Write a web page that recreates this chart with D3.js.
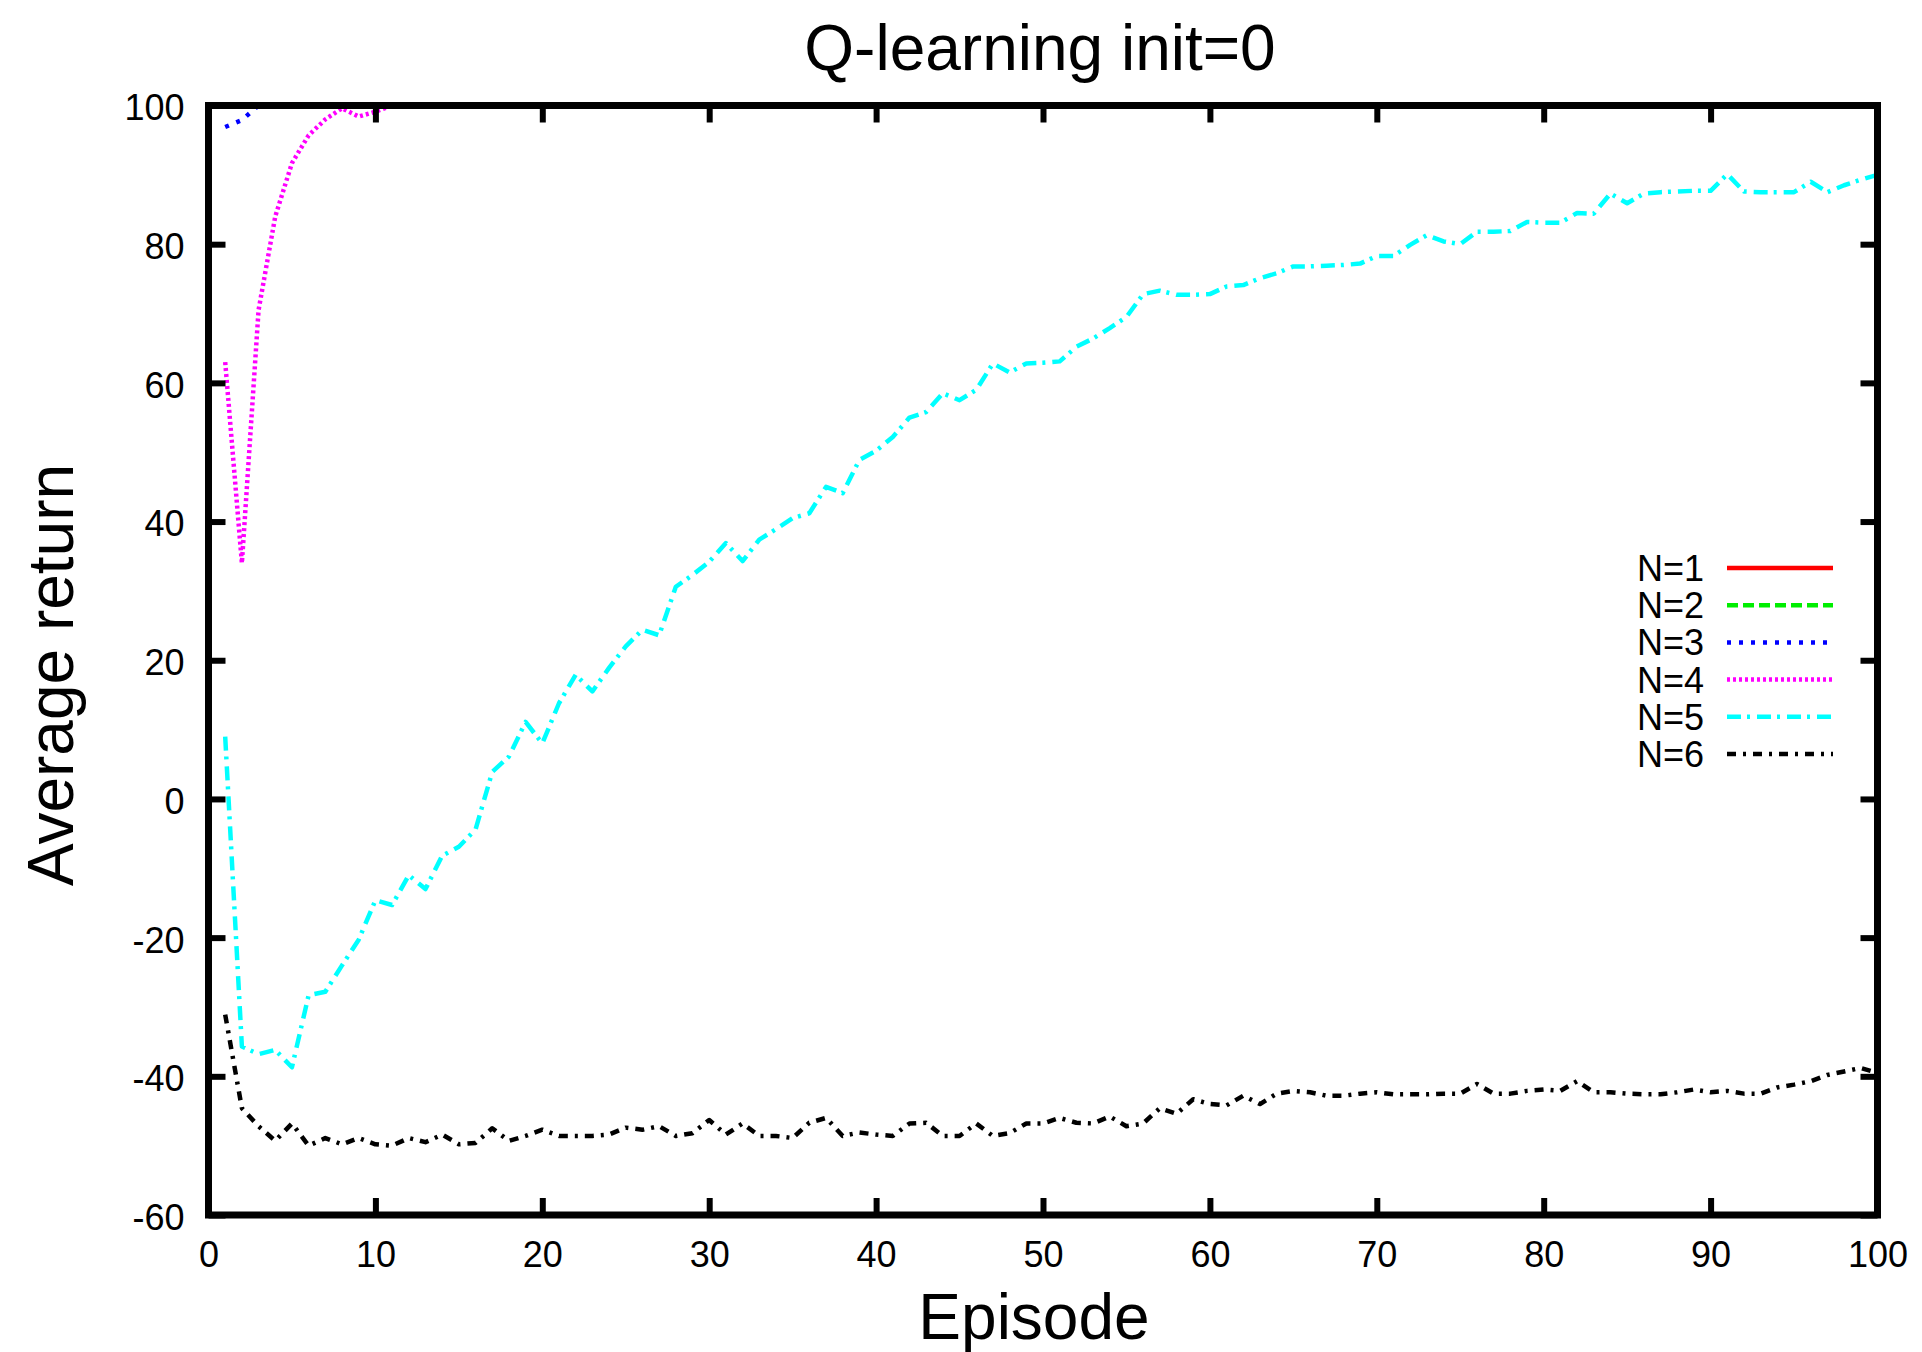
<!DOCTYPE html>
<html>
<head>
<meta charset="utf-8">
<script src="https://cdn.jsdelivr.net/npm/d3@7"></script>
<style>
  body { margin: 0; background: #fff; }
  svg { display: block; background: #fff; }
  text { font-family: "Liberation Sans", Arial, Helvetica, sans-serif; fill: #000; }
</style>
</head>
<body>
<svg id="chart" width="1922" height="1352"></svg>
<script>
const title = "Q-learning init=0";
const xLabel = "Episode";
const yLabel = "Average return";

const xTicks = [0, 10, 20, 30, 40, 50, 60, 70, 80, 90, 100];
const yTicks = [-60, -40, -20, 0, 20, 40, 60, 80, 100];

// episode numbers along the x axis
const episodes = d3.range(1, 101);

const seriesNames = ["N=1", "N=2", "N=3", "N=4", "N=5", "N=6"];
const seriesColors = ["#ff0000", "#00ee00", "#0000ff", "#ff00ff", "#00ffff", "#000000"];
const seriesDashes = ["none", "11,5", "4,8", "3,3", "14,6,3,7", "9,7,3,7"];

// average return per episode
const n1 = [
  100, 100, 100, 100, 100, 100, 100, 100, 100, 100,
  100, 100, 100, 100, 100, 100, 100, 100, 100, 100,
  100, 100, 100, 100, 100, 100, 100, 100, 100, 100,
  100, 100, 100, 100, 100, 100, 100, 100, 100, 100,
  100, 100, 100, 100, 100, 100, 100, 100, 100, 100,
  100, 100, 100, 100, 100, 100, 100, 100, 100, 100,
  100, 100, 100, 100, 100, 100, 100, 100, 100, 100,
  100, 100, 100, 100, 100, 100, 100, 100, 100, 100,
  100, 100, 100, 100, 100, 100, 100, 100, 100, 100,
  100, 100, 100, 100, 100, 100, 100, 100, 100, 100
];
const n2 = [
  100, 100, 100, 100, 100, 100, 100, 100, 100, 100,
  100, 100, 100, 100, 100, 100, 100, 100, 100, 100,
  100, 100, 100, 100, 100, 100, 100, 100, 100, 100,
  100, 100, 100, 100, 100, 100, 100, 100, 100, 100,
  100, 100, 100, 100, 100, 100, 100, 100, 100, 100,
  100, 100, 100, 100, 100, 100, 100, 100, 100, 100,
  100, 100, 100, 100, 100, 100, 100, 100, 100, 100,
  100, 100, 100, 100, 100, 100, 100, 100, 100, 100,
  100, 100, 100, 100, 100, 100, 100, 100, 100, 100,
  100, 100, 100, 100, 100, 100, 100, 100, 100, 100
];
const n3 = [
  96.9, 97.9, 100, 100, 100, 100, 100, 100, 100, 100,
  100, 100, 100, 100, 100, 100, 100, 100, 100, 100,
  100, 100, 100, 100, 100, 100, 100, 100, 100, 100,
  100, 100, 100, 100, 100, 100, 100, 100, 100, 100,
  100, 100, 100, 100, 100, 100, 100, 100, 100, 100,
  100, 100, 100, 100, 100, 100, 100, 100, 100, 100,
  100, 100, 100, 100, 100, 100, 100, 100, 100, 100,
  100, 100, 100, 100, 100, 100, 100, 100, 100, 100,
  100, 100, 100, 100, 100, 100, 100, 100, 100, 100,
  100, 100, 100, 100, 100, 100, 100, 100, 100, 100
];
const n4 = [
  63, 34, 70.5, 84, 91.7, 95.7, 98, 99.6, 98.4, 99.1,
  100, 100, 100, 100, 100, 100, 100, 100, 100, 100,
  100, 100, 100, 100, 100, 100, 100, 100, 100, 100,
  100, 100, 100, 100, 100, 100, 100, 100, 100, 100,
  100, 100, 100, 100, 100, 100, 100, 100, 100, 100,
  100, 100, 100, 100, 100, 100, 100, 100, 100, 100,
  100, 100, 100, 100, 100, 100, 100, 100, 100, 100,
  100, 100, 100, 100, 100, 100, 100, 100, 100, 100,
  100, 100, 100, 100, 100, 100, 100, 100, 100, 100,
  100, 100, 100, 100, 100, 100, 100, 100, 100, 100
];
const n5 = [
  9.0, -35.7, -36.8, -36.2, -38.7, -28.3, -27.8, -24.0, -20.3, -14.6,
  -15.3, -11.0, -13.0, -8.2, -6.9, -4.4, 3.9, 6.1, 11.1, 8.0,
  13.8, 17.9, 15.5, 18.9, 22.0, 24.4, 23.6, 30.6, 32.3, 34.2,
  36.9, 34.3, 37.4, 38.9, 40.5, 41.2, 45.0, 44.1, 48.9, 50.2,
  52.2, 55.0, 55.8, 58.5, 57.5, 59.0, 62.8, 61.5, 62.8, 62.9,
  63.1, 65.2, 66.4, 67.9, 69.5, 72.8, 73.3, 72.7, 72.7, 72.8,
  73.9, 74.1, 75.1, 75.8, 76.8, 76.8, 76.9, 77.0, 77.2, 78.3,
  78.3, 79.9, 81.3, 80.4, 80.0, 81.8, 81.8, 81.9, 83.2, 83.1,
  83.1, 84.5, 84.4, 87.3, 85.9, 87.3, 87.5, 87.6, 87.7, 87.7,
  90.1, 87.6, 87.5, 87.5, 87.5, 89.0, 87.5, 88.5, 89.3, 90.0
];
const n6 = [
  -31.1, -44.6, -47.2, -49.3, -46.8, -50.0, -48.9, -49.8, -48.9, -49.8,
  -50.0, -48.9, -49.5, -48.4, -49.8, -49.6, -47.5, -49.3, -48.6, -47.7,
  -48.6, -48.6, -48.6, -48.4, -47.4, -47.7, -47.2, -48.6, -48.2, -46.3,
  -48.4, -46.8, -48.6, -48.6, -48.9, -46.7, -46.0, -48.6, -48.1, -48.4,
  -48.6, -46.8, -46.7, -48.6, -48.6, -46.8, -48.6, -48.2, -46.8, -46.8,
  -46.0, -46.7, -46.8, -45.8, -47.2, -46.8, -44.6, -45.4, -43.3, -44.0,
  -44.2, -42.8, -44.0, -42.5, -42.1, -42.3, -42.8, -42.8, -42.5, -42.3,
  -42.6, -42.6, -42.6, -42.5, -42.5, -41.1, -42.5, -42.5, -42.1, -41.9,
  -42.1, -40.7, -42.3, -42.3, -42.5, -42.6, -42.6, -42.3, -41.9, -42.3,
  -42.1, -42.5, -42.5, -41.6, -41.2, -40.7, -39.8, -39.3, -38.8, -39.5
];
const seriesValues = [n1, n2, n3, n4, n5, n6];

const width = 1922, height = 1352;
const margin = {top: 105.5, right: 44.5, bottom: 137, left: 208.5};
const fontFamily = '"Liberation Sans", Arial, Helvetica, sans-serif';

const svg = d3.select("#chart");

const x = d3.scaleLinear()
    .domain([0, 100])
    .range([margin.left, width - margin.right]);
const y = d3.scaleLinear()
    .domain([-60, 100])
    .range([height - margin.bottom, margin.top]);

svg.append("defs").append("clipPath")
    .attr("id", "plotClip")
  .append("rect")
    .attr("x", x(0))
    .attr("y", y(100))
    .attr("width", x(100) - x(0))
    .attr("height", y(-60) - y(100));

// series lines
const line = d3.line()
    .x((d, i) => x(episodes[i]))
    .y(d => y(d));

const linesG = svg.append("g").attr("clip-path", "url(#plotClip)");
seriesValues.forEach((vals, k) => {
    linesG.append("path")
        .datum(vals)
        .attr("d", line)
        .attr("fill", "none")
        .attr("stroke", seriesColors[k])
        .attr("stroke-width", 4.5)
        .attr("stroke-dasharray", seriesDashes[k])
        .attr("stroke-linejoin", "round");
});

// axes with inward ticks on all four sides
const tickLen = 17;
const plainNum = d => String(d);   // hyphen minus like the original
function styleAxis(g) {
    g.select(".domain").remove();
    g.selectAll(".tick line")
        .attr("stroke", "#000")
        .attr("stroke-width", 6);
    g.selectAll(".tick text")
        .style("font-family", fontFamily)
        .style("font-size", "36px")
        .attr("fill", "#000");
}

svg.append("g")
    .attr("transform", "translate(0," + y(-60) + ")")
    .call(d3.axisBottom(x).tickValues(xTicks).tickSize(-tickLen).tickPadding(26).tickFormat(plainNum))
    .call(styleAxis);
svg.append("g")
    .attr("transform", "translate(0," + y(100) + ")")
    .call(d3.axisTop(x).tickValues(xTicks).tickSize(-tickLen).tickFormat(""))
    .call(styleAxis);
svg.append("g")
    .attr("transform", "translate(" + x(0) + ",0)")
    .call(d3.axisLeft(y).tickValues(yTicks).tickSize(-tickLen).tickPadding(24).tickFormat(plainNum))
    .call(styleAxis)
    .call(g => g.selectAll(".tick text").attr("dy", "0.4em"));
svg.append("g")
    .attr("transform", "translate(" + x(100) + ",0)")
    .call(d3.axisRight(y).tickValues(yTicks).tickSize(-tickLen).tickFormat(""))
    .call(styleAxis);

// frame
svg.append("rect")
    .attr("x", x(0))
    .attr("y", y(100))
    .attr("width", x(100) - x(0))
    .attr("height", y(-60) - y(100))
    .attr("fill", "none")
    .attr("stroke", "#000")
    .attr("stroke-width", 7);

// titles
svg.append("text")
    .attr("x", 1040)
    .attr("y", 70)
    .attr("text-anchor", "middle")
    .style("font-size", "64px")
    .text(title);

svg.append("text")
    .attr("x", 1034)
    .attr("y", 1339)
    .attr("text-anchor", "middle")
    .style("font-size", "64px")
    .text(xLabel);

svg.append("text")
    .attr("transform", "translate(73,675) rotate(-90)")
    .attr("text-anchor", "middle")
    .style("font-size", "64px")
    .text(yLabel);

// legend
const legendTop = 568;
const legendStep = 37.2;
const legendTextX = 1704;
const legendLineX1 = 1727;
const legendLineX2 = 1833;
const legend = svg.append("g");
seriesNames.forEach((name, k) => {
    const ly = legendTop + k * legendStep;
    legend.append("text")
        .attr("x", legendTextX)
        .attr("y", ly + 13)
        .attr("text-anchor", "end")
        .style("font-size", "36px")
        .text(name);
    legend.append("line")
        .attr("x1", legendLineX1)
        .attr("x2", legendLineX2)
        .attr("y1", ly)
        .attr("y2", ly)
        .attr("stroke", seriesColors[k])
        .attr("stroke-width", 4.5)
        .attr("stroke-dasharray", seriesDashes[k]);
});
</script>
</body>
</html>
